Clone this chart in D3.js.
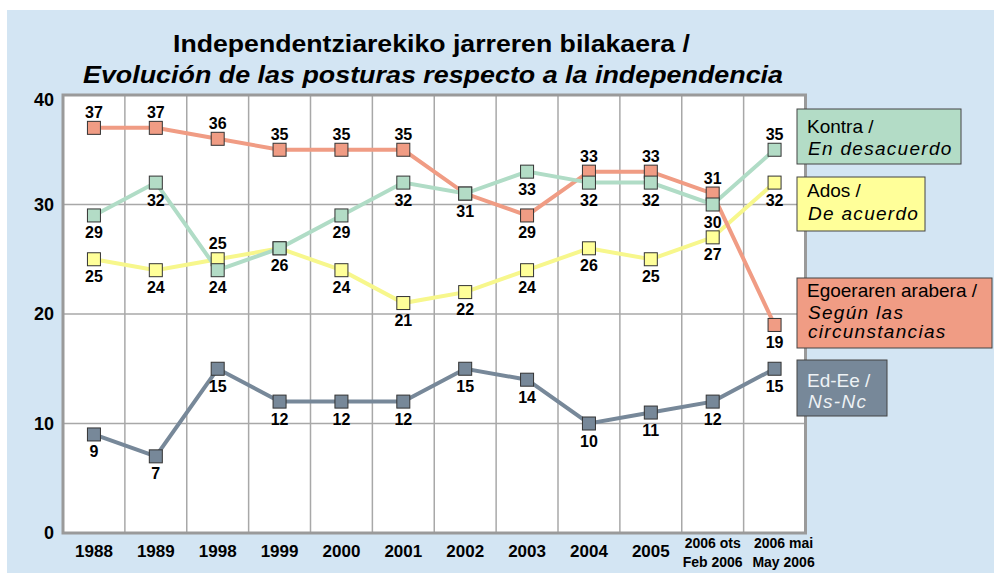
<!DOCTYPE html>
<html>
<head>
<meta charset="utf-8">
<script src="https://cdn.jsdelivr.net/npm/d3@7"></script>
<style>
  body { margin: 0; background: #fff; }
  svg { display: block; font-family: "Liberation Sans", Arial, sans-serif; }
</style>
</head>
<body>
<svg id="chart"></svg>
<script>

// categories (two lines for the last two)
var years = ["1988", "1989", "1998", "1999", "2000", "2001", "2002", "2003", "2004", "2005", "2006 ots|Feb 2006", "2006 mai|May 2006"];

var kontra = [29, 32, 24, 26, 29, 32, 31, 33, 32, 32, 30, 35];
var ados = [25, 24, 25, 26, 24, 21, 22, 24, 26, 25, 27, 32];
var egoera = [37, 37, 36, 35, 35, 35, 31, 29, 33, 33, 31, 19];
var edee = [9, 7, 15, 12, 12, 12, 15, 14, 10, 11, 12, 15];

// where the value label goes: 1 above, -1 below, 0 none
var kontraPos = [-1, -1, -1, -1, -1, -1, -1, -1, -1, -1, -1, 1];
var adosPos = [-1, -1, 1, 0, -1, -1, -1, -1, -1, -1, -1, -1];
var egoeraPos = [1, 1, 1, 1, 1, 1, 0, -1, 1, 1, 1, -1];
var edeePos = [-1, -1, -1, -1, -1, -1, -1, -1, -1, -1, -1, -1];

var yTicks = [0, 10, 20, 30, 40];

var svgWidth = 994;
var svgHeight = 574;

var svg = d3.select("#chart")
    .attr("width", svgWidth)
    .attr("height", svgHeight);

// background panel
svg.append("rect")
    .attr("x", 7).attr("y", 10)
    .attr("width", svgWidth - 7).attr("height", 563)
    .attr("fill", "#d3e5f3");

var plot = {left: 63, right: 805.5, top: 95, bottom: 533};

var xScale = d3.scaleBand()
    .domain(years)
    .range([plot.left, plot.right]);

var yScale = d3.scaleLinear()
    .domain([0, 40])
    .range([plot.bottom, plot.top]);

// title
svg.append("text")
    .attr("x", 173).attr("y", 52)
    .attr("textLength", 517).attr("lengthAdjust", "spacingAndGlyphs")
    .style("font-size", "24px").style("font-weight", "bold")
    .text("Independentziarekiko jarreren bilakaera /");
svg.append("text")
    .attr("x", 83).attr("y", 83)
    .attr("textLength", 700).attr("lengthAdjust", "spacingAndGlyphs")
    .style("font-size", "24px").style("font-weight", "bold").style("font-style", "italic")
    .text("Evolución de las posturas respecto a la independencia");

// plot area
svg.append("rect")
    .attr("x", plot.left).attr("y", plot.top)
    .attr("width", plot.right - plot.left).attr("height", plot.bottom - plot.top)
    .attr("fill", "#fff");

// grid
svg.selectAll(".vgrid")
    .data(years.slice(1))
    .enter()
    .append("line")
    .attr("x1", d => xScale(d)).attr("x2", d => xScale(d))
    .attr("y1", plot.top).attr("y2", plot.bottom)
    .attr("stroke", "#a8a8a8").attr("stroke-width", 1.5);

svg.selectAll(".hgrid")
    .data(yTicks.slice(1, -1))
    .enter()
    .append("line")
    .attr("x1", plot.left).attr("x2", plot.right)
    .attr("y1", d => yScale(d)).attr("y2", d => yScale(d))
    .attr("stroke", "#a8a8a8").attr("stroke-width", 1.5);

svg.append("rect")
    .attr("x", plot.left).attr("y", plot.top)
    .attr("width", plot.right - plot.left).attr("height", plot.bottom - plot.top)
    .attr("fill", "none")
    .attr("stroke", "#9a9a9a").attr("stroke-width", 3);

// y axis labels
svg.selectAll(".ylab")
    .data(yTicks)
    .enter()
    .append("text")
    .attr("x", 54)
    .attr("y", d => yScale(d) + (d == 40 ? 11 : 6))
    .attr("text-anchor", "end")
    .style("font-size", "18px").style("font-weight", "bold")
    .text(d => d);

// x axis labels
years.forEach(function(y, k) {
    var parts = y.split("|");
    var cx = xScale(y) + xScale.bandwidth() / 2;
    if (parts.length == 1) {
        svg.append("text")
            .attr("x", cx).attr("y", 557)
            .attr("text-anchor", "middle")
            .style("font-size", "17px").style("font-weight", "bold")
            .text(parts[0]);
    } else {
        // last label sits a bit right in the original
        if (k == years.length - 1) cx += 9;
        parts.forEach(function(p, i) {
            svg.append("text")
                .attr("x", cx).attr("y", 548 + i * 19)
                .attr("text-anchor", "middle")
                .style("font-size", "14px").style("font-weight", "bold")
                .text(p);
        });
    }
});

var series = [
    {name: "ados", values: ados, pos: adosPos, fill: "#ffff99", line: "#f7f78c"},
    {name: "egoera", values: egoera, pos: egoeraPos, fill: "#f09c84", line: "#f09c84"},
    {name: "kontra", values: kontra, pos: kontraPos, fill: "#b3dcc6", line: "#b0dcc6"},
    {name: "edee", values: edee, pos: edeePos, fill: "#778899", line: "#778899"}
];

var cx = (d, i) => xScale(years[i]) + xScale.bandwidth() / 2;

var line = d3.line()
    .x(cx)
    .y(d => yScale(d));

// lines first
series.forEach(function(s) {
    svg.append("path")
        .datum(s.values)
        .attr("d", line)
        .attr("fill", "none")
        .attr("stroke", s.line)
        .attr("stroke-width", 4);
});

// then markers
series.forEach(function(s) {
    svg.selectAll(".m-" + s.name)
        .data(s.values)
        .enter()
        .append("rect")
        .attr("x", (d, i) => cx(d, i) - 6.5)
        .attr("y", d => yScale(d) - 6.5)
        .attr("width", 13).attr("height", 13)
        .attr("fill", s.fill)
        .attr("stroke", "#333").attr("stroke-width", 1);
});

// value labels
series.forEach(function(s) {
    s.values.forEach(function(v, i) {
        if (s.pos[i] == 0) return;
        svg.append("text")
            .attr("x", cx(v, i))
            .attr("y", yScale(v) + (s.pos[i] > 0 ? -10 : 23))
            .attr("text-anchor", "middle")
            .style("font-size", "16px").style("font-weight", "bold")
            .text(v);
    });
});

// legend boxes
var legend = [
    {lines: ["Kontra /", "En desacuerdo"], y: 109, h: 55, w: 164, fill: "#b3dcc6", color: "#000", base: [133, 155]},
    {lines: ["Ados /", "De acuerdo"], y: 177, h: 54, w: 128, fill: "#ffff99", color: "#000", base: [197, 220]},
    {lines: ["Egoeraren arabera /", "Según las", "circunstancias"], y: 278, h: 70, w: 195, fill: "#f09c84", color: "#000", base: [297, 319, 338]},
    {lines: ["Ed-Ee /", "Ns-Nc"], y: 360, h: 56, w: 90, fill: "#778899", color: "#eef2f5", base: [387, 408]}
];

legend.forEach(function(l) {
    svg.append("rect")
        .attr("x", 797).attr("y", l.y)
        .attr("width", l.w).attr("height", l.h)
        .attr("fill", l.fill)
        .attr("stroke", "#444").attr("stroke-width", 1);
    l.lines.forEach(function(t, i) {
        var it = i > 0;
        svg.append("text")
            .attr("x", it ? 808 : 807)
            .attr("y", l.base[i])
            .attr("fill", l.color)
            .style("font-size", "19px")
            .style("font-style", it ? "italic" : "normal")
            .style("letter-spacing", it ? "1.3px" : "0px")
            .text(t);
    });
});

</script>
</body>
</html>
